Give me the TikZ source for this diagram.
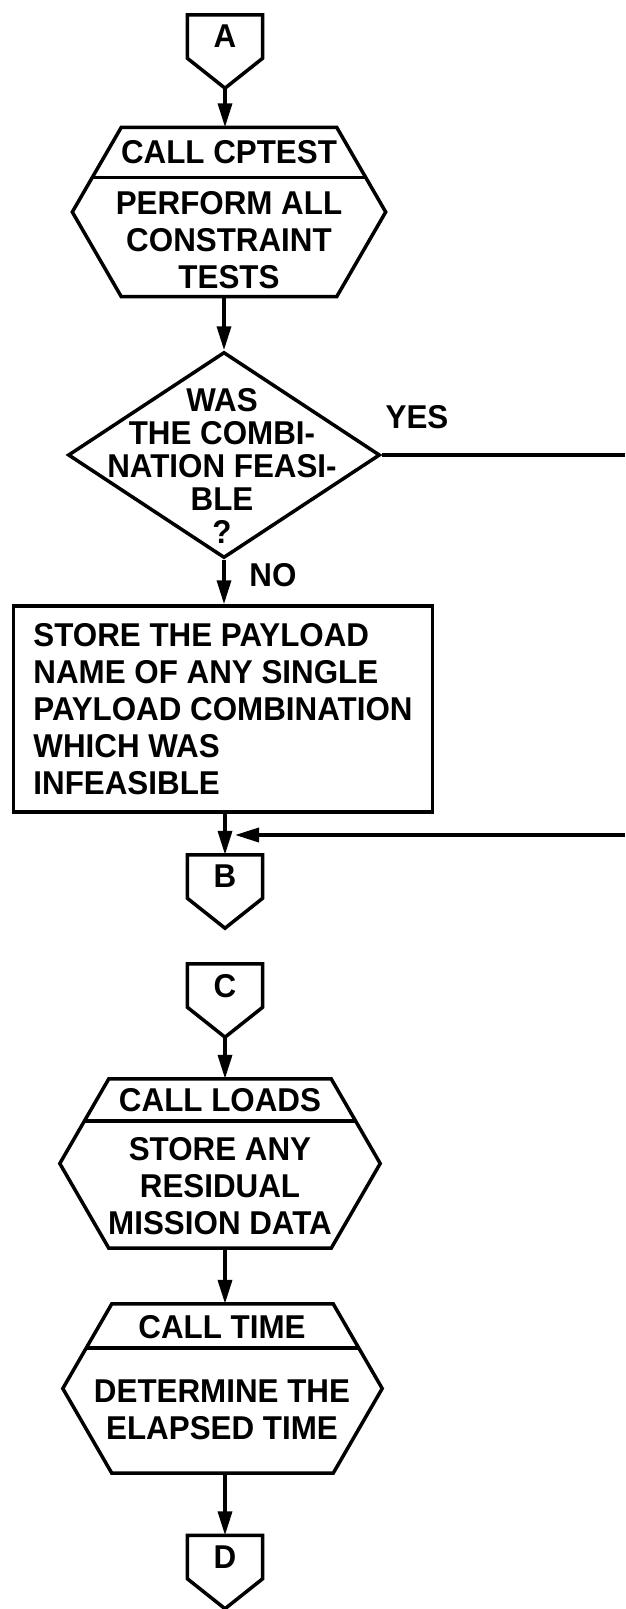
\documentclass[tikz,border=0pt]{standalone}
\usepackage{fontspec}
\setmainfont{Liberation Sans}[FakeStretch=0.95]
\usetikzlibrary{arrows.meta,positioning,calc,shapes.geometric}

\begin{document}
\begin{tikzpicture}[x=1pt, y=-1pt,
  txt/.style={font=\fontsize{33}{37}\selectfont\bfseries, align=center, inner sep=0pt},
  conn/.style={font=\fontsize{33}{37}\selectfont\bfseries, inner sep=0pt,
    minimum width=75pt, minimum height=73pt, text depth=30pt},
  hexa/.style={minimum height=169pt, inner sep=0pt},
  decision/.style={diamond, draw, line width=3.5pt, minimum width=312pt,
    minimum height=206pt, inner sep=0pt},
  procbox/.style={txt, draw, line width=3.5pt, align=left,
    minimum width=419pt, minimum height=206pt},
  line/.style={line width=3.5pt},
  arrow/.style={line, -{Triangle[length=24pt, width=14pt]}}
]
\fill[white] (0,0) rectangle (625,1609);
\useasboundingbox (0,0) rectangle (625,1609);

% off-page connectors
\node[conn] (ca) at (225,51.5) {A};
\node[conn] (cb) at (225,891.5) {B};
\node[conn] (cc) at (225,1000.5) {C};
\node[conn] (cd) at (225,1572) {D};
\foreach \n in {ca,cb,cc,cd}
  \draw[line] (\n.north west) -- (\n.north east) -- ([yshift=30pt]\n.south east)
    -- (\n.south) -- ([yshift=30pt]\n.south west) -- cycle;

% subroutine calls
\node[hexa, minimum width=215pt] (cptest) at (229,212) {};
\node[hexa, minimum width=222pt] (loads) at (220,1163.5) {};
\node[hexa, minimum width=221pt] (time) at (222.5,1388.5) {};
\foreach \n/\f in {cptest/0.59, loads/0.5, time/0.52} {
  \draw[line] (\n.north west) -- (\n.north east) -- ([xshift=49pt]\n.east)
    -- (\n.south east) -- (\n.south west) -- ([xshift=-49pt]\n.west) -- cycle;
  \draw[line] ($(\n.north west)!\f!([xshift=-49pt]\n.west)$)
    -- ($(\n.north east)!\f!([xshift=49pt]\n.east)$);
}
\node[txt] (cptest head) at (229,152) {CALL CPTEST};
\node[txt] (cptest body) at (229,240) {PERFORM ALL\\CONSTRAINT\\TESTS};
\node[txt] (loads head) at (220,1100) {CALL LOADS};
\node[txt] (loads body) at (220,1186) {STORE ANY\\RESIDUAL\\MISSION DATA};
\node[txt] (time head) at (222,1327) {CALL TIME};
\node[txt] (time body) at (222,1410) {DETERMINE THE\\ELAPSED TIME};

% test and store
\node[decision] (feas) at (224,455) {};
\node[txt, font=\fontsize{33}{33}\selectfont\bfseries] (feas text) at (222,466)
  {WAS\\THE COMBI-\\NATION FEASI-\\BLE\\?};
\node[txt] (yes) at (417,417) {YES};
\node[txt] (no) at (273,575) {NO};
\node[procbox] (store) at (223,709) {STORE THE PAYLOAD\\NAME OF ANY SINGLE\\PAYLOAD COMBINATION\\WHICH WAS\\INFEASIBLE};
\coordinate (ret) at (625,835);

\draw[arrow] (ca.south) -- (ca.south |- cptest.north);
\draw[arrow] (cptest.south -| feas.north) -- (feas.north);
\draw[line] (feas.east) -- (feas.east -| ret);
\draw[arrow] (feas.south) -- (feas.south |- store.north);
\draw[arrow] (store.south -| cb.north) -- (cb.north);
\draw[arrow] (ret) -- ($(ret -| cb.north)+(10,0)$);
\draw[arrow] (cc.south) -- (cc.south |- loads.north);
\draw[arrow] (loads.south -| cc.south) -- (time.north -| cc.south);
\draw[arrow] (time.south -| cd.north) -- (cd.north);
\end{tikzpicture}
\end{document}
